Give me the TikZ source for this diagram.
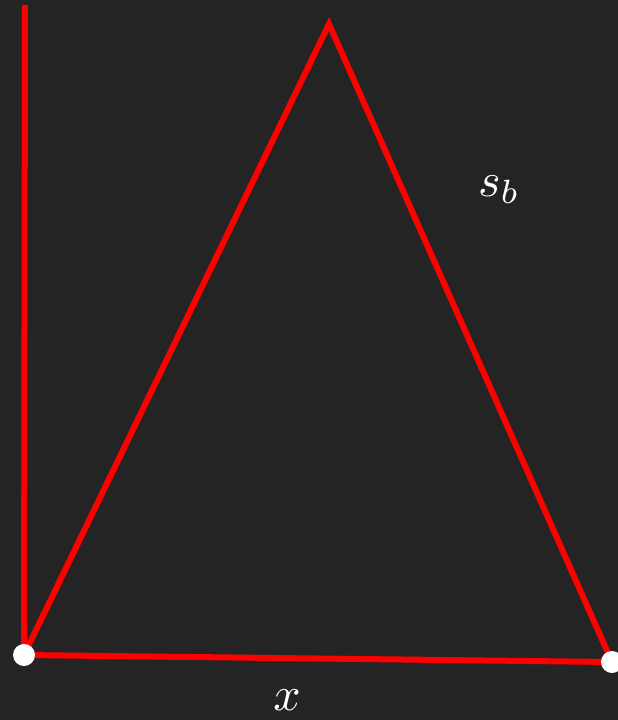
\documentclass[tikz,border=0pt]{standalone}
\definecolor{board}{RGB}{36,36,36}
\definecolor{chalkred}{RGB}{255,0,0}
\tikzset{
  redline/.style={draw=chalkred, line width=6pt},
  dot/.style={circle, fill=white, inner sep=0pt, minimum size=22pt},
  lbl/.style={text=white, inner sep=0pt, scale=4.8}
}
\begin{document}
\begin{tikzpicture}[x=1pt,y=-1pt]
\fill[board] (0,0) rectangle (618,720);
\useasboundingbox (0,0) rectangle (618,720);
\coordinate (top) at (25,5);
\coordinate (apex) at (329,24);
\coordinate (A) at (24,655);
\coordinate (B) at (612,662);
\draw[redline] (top) -- (A);
\draw[redline, line join=miter] (A) -- (apex) -- (B) -- cycle;
\node[dot] (dA) at (A) {};
\node[dot] (dB) at (B) {};
\node[lbl] (sb) at (499,190) {$s_b$};
\node[lbl] (xl) at (287,700) {$x$};
\end{tikzpicture}
\end{document}
